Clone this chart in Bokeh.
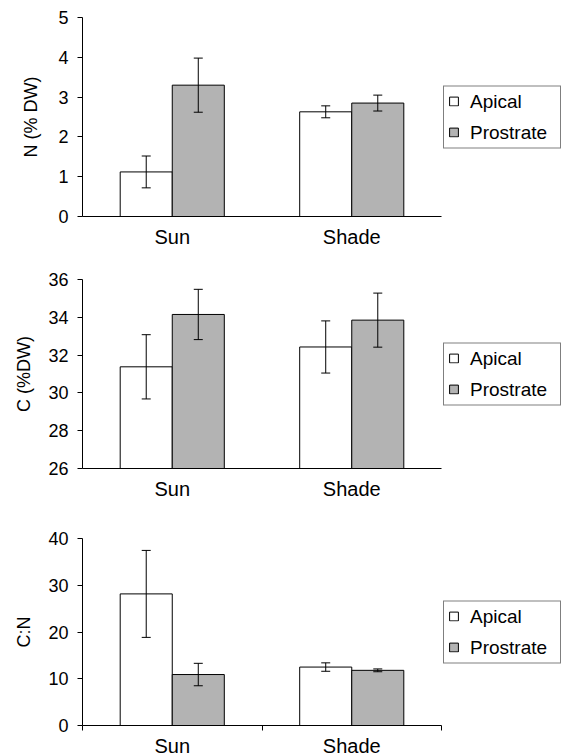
from bokeh.plotting import figure
from bokeh.models import (FactorRange, ColumnDataSource, Whisker, TeeHead, Legend,
                          LegendItem, Range1d, LinearAxis, FixedTicker, CategoricalAxis)
from bokeh.transform import dodge
from bokeh.layouts import column
from bokeh.embed import file_html
from bokeh.resources import INLINE

categories = ["Sun", "Shade"]
series = ["Apical", "Prostrate"]

# Panel 1: N (% DW)
n_ticks = [0, 1, 2, 3, 4, 5]
n_apical = [1.12, 2.63]
n_apical_err = [0.40, 0.15]
n_prostrate = [3.30, 2.85]
n_prostrate_err = [0.68, 0.20]

# Panel 2: C (%DW)
c_ticks = [26, 28, 30, 32, 34, 36]
c_apical = [31.38, 32.43]
c_apical_err = [1.70, 1.38]
c_prostrate = [34.15, 33.85]
c_prostrate_err = [1.33, 1.43]

# Panel 3: C:N
cn_ticks = [0, 10, 20, 30, 40]
cn_apical = [28.15, 12.5]
cn_apical_err = [9.3, 0.9]
cn_prostrate = [10.9, 11.8]
cn_prostrate_err = [2.4, 0.3]

FONT = "Liberation Sans"
GRAY = "#b3b3b3"
BAR_W = 0.29
OFF = 0.145


def panel(ylabel, ticks, apical, apical_err, prostrate, prostrate_err,
          frame_h, top, bottom, edge_ticks, label_standoff):
    y0, y1 = ticks[0], ticks[-1]
    p = figure(x_range=FactorRange(*categories), y_range=Range1d(y0, y1),
               frame_width=359, frame_height=frame_h,
               min_border_left=82, min_border_right=120,
               min_border_top=top, min_border_bottom=bottom,
               x_axis_location=None, output_backend="svg", toolbar_location=None)
    p.grid.visible = False
    p.outline_line_color = None

    src = ColumnDataSource(dict(
        cat=categories, apical=apical, prostrate=prostrate,
        a_up=[v + e for v, e in zip(apical, apical_err)],
        a_lo=[v - e for v, e in zip(apical, apical_err)],
        p_up=[v + e for v, e in zip(prostrate, prostrate_err)],
        p_lo=[v - e for v, e in zip(prostrate, prostrate_err)],
    ))
    r1 = p.vbar(x=dodge("cat", -OFF, range=p.x_range), top="apical", bottom=y0,
                width=BAR_W, source=src, fill_color="white",
                line_color="black", line_width=1)
    r2 = p.vbar(x=dodge("cat", OFF, range=p.x_range), top="prostrate", bottom=y0,
                width=BAR_W, source=src, fill_color=GRAY,
                line_color="black", line_width=1)

    for col_up, col_lo, off in (("a_up", "a_lo", -OFF), ("p_up", "p_lo", OFF)):
        w = Whisker(source=src, base=dodge("cat", off, range=p.x_range),
                    upper=col_up, lower=col_lo, line_color="black", line_width=1,
                    upper_head=TeeHead(size=9, line_color="black", line_width=1),
                    lower_head=TeeHead(size=9, line_color="black", line_width=1),
                    level="annotation")
        p.add_layout(w)

    ya = p.yaxis[0]
    ya.ticker = FixedTicker(ticks=ticks, minor_ticks=[])
    ya.axis_label = ylabel
    ya.axis_label_text_font = FONT
    ya.axis_label_text_font_size = "18px"
    ya.axis_label_text_font_style = "normal"
    ya.axis_label_text_color = "black"
    ya.axis_label_standoff = label_standoff
    ya.major_label_text_font = FONT
    ya.major_label_text_font_size = "18px"
    ya.major_label_text_color = "black"
    ya.major_label_standoff = 9
    ya.major_tick_out = 5
    ya.major_tick_in = 0
    ya.minor_tick_line_color = None
    ya.axis_line_color = "black"
    ya.major_tick_line_color = "black"

    if edge_ticks:
        # ticks at the category boundaries (synthetic coordinates 0..N)
        ea = LinearAxis(ticker=FixedTicker(ticks=list(range(len(categories) + 1)),
                                           minor_ticks=[]),
                        major_tick_out=5, major_tick_in=0,
                        minor_tick_line_color=None,
                        major_label_text_font_size="0px",
                        major_label_text_color=None, major_label_standoff=0,
                        axis_line_color="black", major_tick_line_color="black")
        p.add_layout(ea, "below")

    xa = CategoricalAxis(major_tick_line_color=None, major_tick_out=0, major_tick_in=0,
                         major_label_standoff=4 if edge_ticks else 9,
                         major_label_text_font=FONT, major_label_text_font_size="20px",
                         major_label_text_color="black",
                         axis_line_color=None if edge_ticks else "black")
    p.add_layout(xa, "below")

    leg = Legend(items=[LegendItem(label=series[0], renderers=[r1]),
                        LegendItem(label=series[1], renderers=[r2])],
                 location="center_left", margin=2, padding=4, spacing=9,
                 glyph_width=11, glyph_height=11, label_standoff=11,
                 label_width=86, label_height=20,
                 label_text_font=FONT, label_text_font_size="19px",
                 label_text_color="black",
                 border_line_color="black", border_line_width=1)
    p.add_layout(leg, "right")
    return p


p1 = panel("N (% DW)", n_ticks, n_apical, n_apical_err, n_prostrate, n_prostrate_err,
           199, 17, 34, False, 14)
p2 = panel("C (%DW)", c_ticks, c_apical, c_apical_err, c_prostrate, c_prostrate_err,
           189, 29, 42, False, 11)
p3 = panel("C:N", cn_ticks, cn_apical, cn_apical_err, cn_prostrate, cn_prostrate_err,
           187, 28, 31, True, 11)

layout = column(p1, p2, p3, spacing=0)
open("out.html", "w").write(file_html(layout, INLINE))
